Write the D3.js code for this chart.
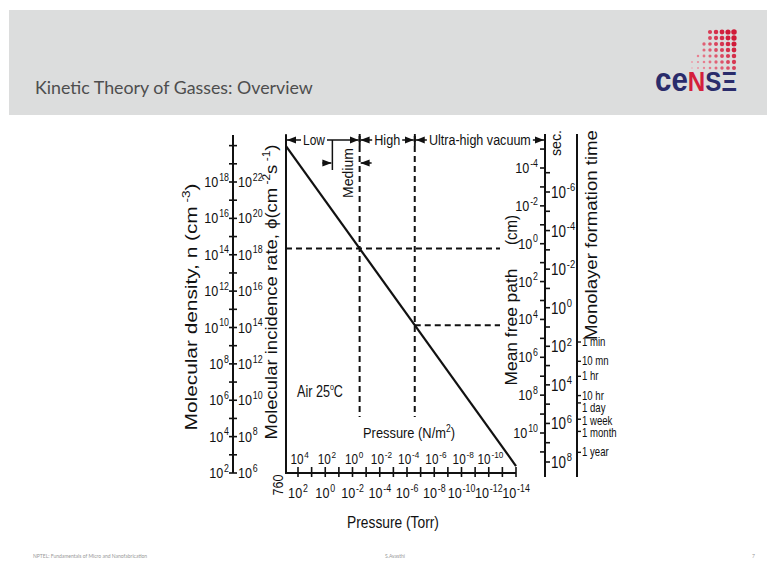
<!DOCTYPE html>
<html><head><meta charset="utf-8">
<script src="https://cdn.jsdelivr.net/npm/d3@7"></script>
<style>html,body{margin:0;padding:0;background:#fff;overflow:hidden}svg{display:block}</style>
</head><body>
<script>
// ---------------- data ----------------
const torrTickExps = [2,1,0,-1,-2,-3,-4,-5,-6,-7,-8,-9,-10,-11,-12,-13,-14];
const torrLabelExps = [2,0,-2,-4,-6,-8,-10,-12,-14];
const paLabelExps = [4,2,0,-2,-4,-6,-8,-10];
const densityTickExps = [2,3,4,5,6,7,8,9,10,11,12,13,14,15,16,17,18,19,20];
const densityLabelExps = [18,16,14,12,10,8,6,4,2];
const fluxLabelExps = [22,20,18,16,14,12,10,8,6];
const mfpTickExps = [-5,-4,-3,-2,-1,0,1,2,3,4,5,6,7,8,9,10,11];
const mfpLabelExps = [-4,-2,0,2,4,6,8,10];
const timeTickExps = [-7,-6,-5,-4,-3,-2,-1,0,1,2,3,4,5,6,7,8];
const timeLabelExps = [-6,-4,-2,0,2,4,6,8];
const monolayerLabels = ["1 min","10 mn","1 hr","10 hr","1 day","1 week","1 month","1 year"];
const monolayerSeconds = [60,600,3600,36000,86400,604800,2592000,31536000];
const linePressure = [760, 1e-14];      // Torr
const lineDensity = [9.5e19, 2.4e2];    // cm^-3
const boundaryPressures = [3e-3, 2.7e-7]; // Torr, dashed verticals
const regimeNames = ["Low", "High", "Ultra-high vacuum"];
const mediumRange = [0.3, 3e-3];        // Torr
const TORR_PER_PA = 1/133.322;

// ---------------- setup ----------------
const W = 767, H = 565;
const NF = "'Liberation Sans',Arial,sans-serif";
const SX = 0.84; // condensed look
const svg = d3.select("body").append("svg").attr("width", W).attr("height", H)
  .attr("font-family", NF).attr("fill", "#111");

// fit text to a target length by horizontal scaling
function fit(sel, cx, cy, rot, target) {
  const L = sel.node().getComputedTextLength();
  sel.attr("transform", `translate(${cx},${cy}) rotate(${rot}) scale(${target / L},1)`);
  return sel;
}
function ftext(size, anchor) {
  return svg.append("text").attr("font-size", size).attr("text-anchor", anchor || "middle");
}

// header
svg.append("rect").attr("x", 9).attr("y", 10).attr("width", W - 9).attr("height", 105).attr("fill", "#dcdddd");
const title = ftext(18, "start").attr("font-family", "Lato,'Open Sans',sans-serif").attr("fill", "#4e4e4e")
  .text("Kinetic Theory of Gasses: Overview");
fit(title, 35, 94, 0, 278);
// logo
const logo = svg.append("g");
for (let gx = 686; gx <= 734; gx += 6) {
  for (let gy = 26; gy <= 70; gy += 6) {
    if (gx > 690 + (70 - gy) * 0.62 - 4 && gy > 26 + (734 - gx) * 0.05) {
      const t = (gx - 686) / 48 * 0.6 + (70 - gy) / 44 * 0.4;
      logo.append("circle").attr("cx", gx).attr("cy", gy).attr("r", 0.6 + 2.3 * t)
        .attr("fill", d3.interpolateRgb("#f4b4be", "#d01a38")(Math.min(1, t * 1.2)));
    }
  }
}
const lt = logo.append("text").attr("font-family", "'Liberation Sans',Arial,sans-serif")
  .attr("font-weight", 900).attr("font-size", 27);
lt.append("tspan").attr("fill", "#2a2c6b").attr("font-size", 33).text("ce");
lt.append("tspan").attr("fill", "#d41f3c").text("N");
lt.append("tspan").attr("fill", "#2a2c6b").text("SΞ");
fit(lt, 655, 91, 0, 82);

// footer
const ff = "Lato,sans-serif";
svg.append("text").attr("x", 33).attr("y", 558).attr("font-size", 5).attr("fill", "#999").attr("font-family", ff)
  .text("NPTEL: Fundamentals of Micro and Nanofabrication");
svg.append("text").attr("x", 385).attr("y", 558).attr("font-size", 5).attr("fill", "#999").attr("font-family", ff).text("S.Avasthi");
svg.append("text").attr("x", 752).attr("y", 558).attr("font-size", 5).attr("fill", "#999").attr("font-family", ff).text("7");

// ---------------- scales ----------------
const x = d3.scaleLog().domain([760, 1e-14]).range([286, 516]);
const yN = d3.scaleLog().domain([1e2, 1e18]).range([473, 182]);
const yF = d3.scaleLog().domain([1e6, 1e22]).range([473, 182]);
const yM = d3.scaleLog().domain([1e-4, 1e10]).range([168, 433]);
const yT = d3.scaleLog().domain([1e-6, 1e8]).range([192, 462]);

// helpers
function ctext(px, py, size, anchor, sx) {
  return svg.append("text").attr("transform", `translate(${px},${py}) scale(${sx || SX},1)`)
    .attr("text-anchor", anchor || "start").attr("font-size", size);
}
function pow(sel, e, size) {
  sel.append("tspan").text("10");
  sel.append("tspan").attr("font-size", size * 0.7).attr("dy", -size * 0.42).attr("dx", 1).text(e);
}
const g = svg.append("g").attr("stroke", "#111");

// ---------------- left axis (density / flux) ----------------
const ax = 233;
g.append("line").attr("x1", ax).attr("x2", ax).attr("y1", 135).attr("y2", yN(1e2)).attr("stroke-width", 2);
densityTickExps.forEach(e => {
  const py = yN(Math.pow(10, e));
  g.append("line").attr("x1", ax - 4).attr("x2", ax + 4).attr("y1", py).attr("y2", py).attr("stroke-width", 1.6);
});
densityLabelExps.forEach(e => pow(ctext(ax - 4, yN(Math.pow(10, e)) + 5, 15, "end"), e, 15));
fluxLabelExps.forEach(e => pow(ctext(ax + 5, yF(Math.pow(10, e)) + 5, 15, "start"), e, 15));
// axis titles
const t1 = ftext(17);
t1.append("tspan").text("Molecular density,  n (cm");
t1.append("tspan").attr("font-size", 11).attr("dy", -7).text(" -3");
t1.append("tspan").attr("dy", 7).text(")");
fit(t1, 197, 307, -90, 247);
const t2 = ftext(17);
t2.append("tspan").text("Molecular  incidence rate,  \u03d5(cm");
t2.append("tspan").attr("font-size", 11).attr("dy", -7).text(" -2");
t2.append("tspan").attr("dy", 7).text("s");
t2.append("tspan").attr("font-size", 11).attr("dy", -7).text(" -1");
t2.append("tspan").attr("dy", 7).text(")");
fit(t2, 277, 292, -90, 295);

// ---------------- plot frame + bottom axis ----------------
const by = 473;
g.append("line").attr("x1", x(760)).attr("x2", x(760)).attr("y1", 135).attr("y2", by + 1).attr("stroke-width", 2);
g.append("line").attr("x1", x(760)).attr("x2", x(1e-14)).attr("y1", by).attr("y2", by).attr("stroke-width", 2.2);
torrTickExps.forEach(e => {
  const px = x(Math.pow(10, e));
  g.append("line").attr("x1", px).attr("x2", px).attr("y1", by - 6).attr("y2", by + 4).attr("stroke-width", 1.6);
});
torrLabelExps.forEach(e => pow(ctext(x(Math.pow(10, e)), 498, 15, "middle"), e, 15));
svg.append("text").attr("transform", `translate(${x(760) - 3},485) rotate(-90) scale(${SX},1)`).attr("text-anchor", "middle")
  .attr("font-size", 15).text("760");
paLabelExps.forEach(e => pow(ctext(x(Math.pow(10, e) * TORR_PER_PA), 464, 14, "middle"), e, 14));
const tp = ftext(15);
tp.append("tspan").text("Pressure (N/m");
tp.append("tspan").attr("font-size", 10).attr("dy", -6).text("2");
tp.append("tspan").attr("dy", 6).text(")");
fit(tp, 409, 438, 0, 92);
fit(ftext(16).text("Pressure (Torr)"), 393, 528, 0, 92);
const ta = ftext(16, "start");
ta.append("tspan").text("Air 25");
ta.append("tspan").attr("font-size", 9).attr("dy", -7).text("o");
ta.append("tspan").attr("dy", 7).text("C");
fit(ta, 297, 397, 0, 46);

// ---------------- main line ----------------
const lineData = linePressure.map((p, i) => [p, lineDensity[i]]);
g.append("path").datum(lineData).attr("fill", "none").attr("stroke-width", 2.2)
  .attr("d", d3.line().x(d => x(d[0])).y(d => yN(d[1])));
const logSlope = (Math.log10(lineDensity[1]) - Math.log10(lineDensity[0])) / (Math.log10(linePressure[1]) - Math.log10(linePressure[0]));
const densityAt = p => Math.pow(10, Math.log10(lineDensity[0]) + (Math.log10(p) - Math.log10(linePressure[0])) * logSlope);

// ---------------- right axes ----------------
const mx = 545, lx = 577;
const dash = "6,4";
boundaryPressures.forEach((p, i) => {
  g.append("line").attr("x1", x(p)).attr("x2", x(p)).attr("y1", 136).attr("y2", 417).attr("stroke-width", 2).attr("stroke-dasharray", dash);
  g.append("line").attr("x1", i === 0 ? x(760) : x(p)).attr("x2", mx - 45).attr("y1", yN(densityAt(p))).attr("y2", yN(densityAt(p)))
    .attr("stroke-width", 2).attr("stroke-dasharray", dash);
});

g.append("line").attr("x1", mx).attr("x2", mx).attr("y1", 134).attr("y2", 477).attr("stroke-width", 2);
mfpTickExps.forEach(e => {
  const py = yM(Math.pow(10, e));
  if (py > 134 && py < 477) g.append("line").attr("x1", mx - 5).attr("x2", mx).attr("y1", py).attr("y2", py).attr("stroke-width", 1.6);
});
timeTickExps.forEach(e => {
  const py = yT(Math.pow(10, e));
  if (py > 134 && py < 477) g.append("line").attr("x1", mx).attr("x2", mx + 5).attr("y1", py).attr("y2", py).attr("stroke-width", 1.6);
});
mfpLabelExps.forEach(e => pow(ctext(mx - 7, yM(Math.pow(10, e)) + 5, 15, "end"), e, 15));
timeLabelExps.forEach(e => pow(ctext(mx + 6, yT(Math.pow(10, e)) + 6, 16, "start"), e, 16));
fit(ftext(17).text("Mean free path"), 517, 327, -90, 117);
fit(ftext(17).text("(cm)"), 517, 230, -90, 30);
fit(ftext(15).text("sec."), 561, 143, -90, 26);

g.append("line").attr("x1", lx).attr("x2", lx).attr("y1", 134).attr("y2", 477).attr("stroke-width", 2);
let prev = -Infinity;
monolayerSeconds.forEach((s, i) => {
  const py = yT(s);
  g.append("line").attr("x1", lx).attr("x2", lx + 4).attr("y1", py).attr("y2", py).attr("stroke-width", 1.4);
  const ly = Math.max(py, prev + 12.5);
  prev = ly;
  ctext(lx + 5, ly + 4, 12, "start", 0.8).text(monolayerLabels[i]);
});
fit(ftext(16).text("Monolayer formation time"), 597, 235, -90, 210);

// ---------------- regime annotations ----------------
const defs = svg.append("defs");
defs.append("marker").attr("id", "ah").attr("viewBox", "0 0 10 10").attr("refX", 10).attr("refY", 5)
  .attr("markerWidth", 6).attr("markerHeight", 6).attr("orient", "auto-start-reverse")
  .append("path").attr("d", "M0,1L10,5L0,9z").attr("fill", "#111");
const ay = 140;
const bounds = [x(760), x(boundaryPressures[0]), x(boundaryPressures[1]), mx];
const regimeLen = [22, 26, 102];
regimeNames.forEach((name, i) => {
  const x1 = bounds[i], x2 = bounds[i + 1];
  const cx = name === "Low" ? x1 + 28 : (x1 + x2) / 2;
  fit(ftext(15).text(name), cx, ay + 5, 0, regimeLen[i]);
  const l = cx - regimeLen[i] / 2, r = cx + regimeLen[i] / 2;
  g.append("line").attr("x1", l - 2).attr("x2", x1 + 1).attr("y1", ay).attr("y2", ay).attr("stroke-width", 1.5).attr("marker-end", "url(#ah)");
  g.append("line").attr("x1", r + 2).attr("x2", x2 - 1).attr("y1", ay).attr("y2", ay).attr("stroke-width", 1.5).attr("marker-end", "url(#ah)");
  g.append("line").attr("x1", x1).attr("x2", x1).attr("y1", ay - 6).attr("y2", ay + 6).attr("stroke-width", 1.6);
  g.append("line").attr("x1", x2).attr("x2", x2).attr("y1", ay - 6).attr("y2", ay + 6).attr("stroke-width", 1.6);
});
// medium bracket
const m1 = x(mediumRange[0]), m2 = x(mediumRange[1]), my = 163;
g.append("line").attr("x1", m1).attr("x2", m1).attr("y1", ay).attr("y2", 170).attr("stroke-width", 1.5);
g.append("line").attr("x1", m1 - 10).attr("x2", m1 - 1).attr("y1", my).attr("y2", my).attr("stroke-width", 1.5).attr("marker-end", "url(#ah)");
g.append("line").attr("x1", m2 + 12).attr("x2", m2 + 1).attr("y1", my).attr("y2", my).attr("stroke-width", 1.5).attr("marker-end", "url(#ah)");
fit(ftext(15).text("Medium"), (m1 + m2) / 2 + 7, 173, -90, 50);
</script>
</body></html>
